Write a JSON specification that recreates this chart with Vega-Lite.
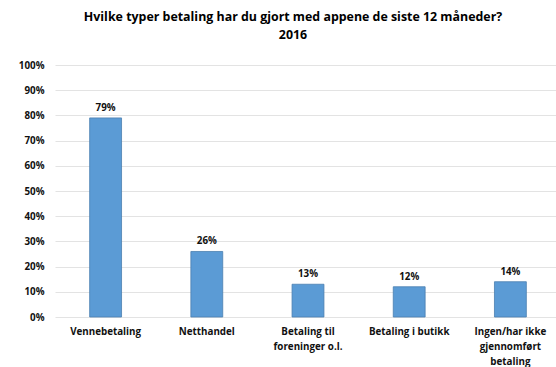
{
  "$schema": "https://vega.github.io/schema/vega-lite/v6.json",
  "autosize": "none",
  "width": 506,
  "height": 252,
  "padding": {"left": 55, "top": 65, "right": 0, "bottom": 50},
  "background": "white",
  "config": {"view": {"stroke": null}, "font": "Open Sans"},
  "title": {
    "text": ["Hvilke typer betaling har du gjort med appene de siste 12 måneder?", "2016"],
    "fontSize": 12.4,
    "fontWeight": "bold",
    "font": "Open Sans",
    "color": "#000000",
    "anchor": "middle",
    "dx": -15,
    "offset": 19,
    "lineHeight": 18
  },
  "data": {
    "values": [
      {"kategori": "Vennebetaling", "andel": 0.79},
      {"kategori": "Netthandel", "andel": 0.26},
      {"kategori": "Betaling til foreninger o.l.", "andel": 0.13},
      {"kategori": "Betaling i butikk", "andel": 0.12},
      {"kategori": "Ingen/har ikke gjennomført betaling", "andel": 0.14}
    ]
  },
  "encoding": {
    "x": {
      "field": "kategori",
      "type": "nominal",
      "sort": null,
      "scale": {"paddingInner": 0.685, "paddingOuter": 0.3425},
      "axis": {
        "title": null,
        "labelAngle": 0,
        "domain": false,
        "ticks": false,
        "labelFontWeight": "bold",
        "labelFontSize": 9.8,
        "labelColor": "#111111",
        "labelPadding": 9,
        "labelLineHeight": 15,
        "labelExpr": "datum.label == 'Betaling til foreninger o.l.' ? ['Betaling til', 'foreninger o.l.'] : datum.label == 'Ingen/har ikke gjennomført betaling' ? ['Ingen/har ikke', 'gjennomført', 'betaling'] : datum.label"
      }
    },
    "y": {
      "field": "andel",
      "type": "quantitative",
      "scale": {"domain": [0, 1]},
      "axis": {
        "title": null,
        "format": ".0%",
        "values": [0, 0.1, 0.2, 0.3, 0.4, 0.5, 0.6, 0.7, 0.8, 0.9, 1],
        "labelOverlap": false,
        "labelFlush": false,
        "domain": false,
        "ticks": false,
        "labelFontWeight": "bold",
        "labelFontSize": 9.8,
        "labelColor": "#111111",
        "labelPadding": 11,
        "gridColor": "#e3e3e3",
        "gridWidth": 1
      }
    }
  },
  "layer": [
    {
      "mark": {"type": "bar", "color": "#5b9bd5", "stroke": "#4a7fb0", "strokeWidth": 0.8}
    },
    {
      "mark": {"type": "text", "dy": -10, "fontWeight": "bold", "fontSize": 9.8, "color": "#111111"},
      "encoding": {"text": {"field": "andel", "type": "quantitative", "format": ".0%"}}
    }
  ]
}
